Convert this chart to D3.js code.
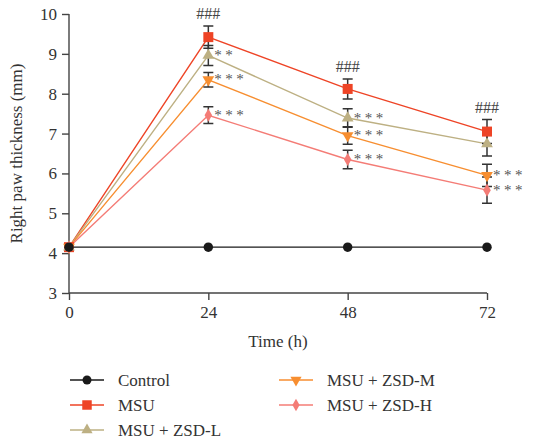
<!DOCTYPE html>
<html>
<head>
<meta charset="utf-8">
<script src="https://cdn.jsdelivr.net/npm/d3@7"></script>
<style>
  body { margin: 0; background: #fff; }
  text { font-family: "Liberation Serif", "DejaVu Serif", serif; }
</style>
</head>
<body>
<svg id="chart" width="533" height="447"></svg>
<script>
// data
var times = [0, 24, 48, 72]
var xTicks = [0, 24, 48, 72]
var yTicks = [3, 4, 5, 6, 7, 8, 9, 10]
var groups = ['Control', 'MSU', 'MSU + ZSD-L', 'MSU + ZSD-M', 'MSU + ZSD-H']
var control = [4.15, 4.15, 4.15, 4.15]
var msu = [4.15, 9.42, 8.12, 7.05]
var zsdL = [4.15, 8.96, 7.39, 6.74]
var zsdM = [4.15, 8.35, 6.95, 5.95]
var zsdH = [4.15, 7.46, 6.35, 5.58]
var controlErr = [0, 0, 0, 0]
var msuErr = [0, 0.28, 0.25, 0.3]
var zsdLErr = [0, 0.25, 0.23, 0.3]
var zsdMErr = [0, 0.18, 0.22, 0.28]
var zsdHErr = [0, 0.21, 0.23, 0.33]
// significance marks per group and time point
var msuSig = ['', '###', '###', '###']
var zsdLSig = ['', '**', '***', '']
var zsdMSig = ['', '***', '***', '***']
var zsdHSig = ['', '***', '***', '***']

var series = [
  { name: groups[0], values: control, err: controlErr, sig: null, color: '#1a1a1a', symbol: d3.symbolCircle, size: 70, rotate: 0 },
  { name: groups[1], values: msu, err: msuErr, sig: msuSig, color: '#ee4426', symbol: d3.symbolSquare, size: 100, rotate: 0 },
  { name: groups[2], values: zsdL, err: zsdLErr, sig: zsdLSig, color: '#bdb083', symbol: d3.symbolTriangle, size: 60, rotate: 0 },
  { name: groups[3], values: zsdM, err: zsdMErr, sig: zsdMSig, color: '#f78e30', symbol: d3.symbolTriangle, size: 60, rotate: 180 },
  { name: groups[4], values: zsdH, err: zsdHErr, sig: zsdHSig, color: '#f47c76', symbol: d3.symbolDiamond, size: 50, rotate: 0 }
]

var margin = { left: 69, top: 14, right: 46, bottom: 154 }
var width = 533 - margin.left - margin.right
var height = 447 - margin.top - margin.bottom
var fs = '17px'

var svg = d3.select('#chart')
var g = svg.append('g').attr('transform', 'translate(' + margin.left + ',' + margin.top + ')')

var x = d3.scaleLinear().domain([0, 72]).range([0, width])
var y = d3.scaleLinear().domain([3, 10]).range([height, 0])

// axes
var xAxis = g.append('g')
  .attr('transform', 'translate(0,' + height + ')')
  .call(d3.axisBottom(x).tickValues(xTicks).tickFormat(d3.format('d')).tickSize(7).tickPadding(6))
var yAxis = g.append('g')
  .call(d3.axisLeft(y).tickValues(yTicks).tickFormat(d3.format('d')).tickSize(7).tickPadding(5))
g.selectAll('.domain, .tick line').attr('stroke', '#444').attr('stroke-width', 1.4)
g.selectAll('.tick text').style('font-size', fs).style('fill', '#333')
xAxis.select('.domain').attr('d', 'M0,0H' + width)
yAxis.select('.domain').attr('d', 'M0,' + height + 'V0')

g.append('text')
  .attr('x', width / 2)
  .attr('y', height + 54)
  .attr('text-anchor', 'middle')
  .style('font-size', fs)
  .style('fill', '#333')
  .text('Time (h)')

g.append('text')
  .attr('transform', 'translate(-47,' + (height / 2) + ') rotate(-90)')
  .attr('text-anchor', 'middle')
  .style('font-size', fs)
  .style('fill', '#333')
  .text('Right paw thickness (mm)')

var line = d3.line()
  .x(function (d, i) { return x(times[i]) })
  .y(function (d) { return y(d) })

// lines, error bars, markers (control drawn last so it sits on top)
var order = [1, 2, 3, 4, 0]
order.forEach(function (k) {
  var s = series[k]
  g.append('path')
    .datum(s.values)
    .attr('d', line)
    .attr('fill', 'none')
    .attr('stroke', s.color)
    .attr('stroke-width', 1.4)
})

order.forEach(function (k) {
  var s = series[k]
  var eb = g.append('g')
  s.values.forEach(function (v, i) {
    if (!s.err[i]) return
    var cx = x(times[i])
    var y1 = y(v + s.err[i])
    var y2 = y(v - s.err[i])
    eb.append('path')
      .attr('d', 'M' + cx + ',' + y1 + 'V' + y2 + 'M' + (cx - 5) + ',' + y1 + 'H' + (cx + 5) + 'M' + (cx - 5) + ',' + y2 + 'H' + (cx + 5))
      .attr('stroke', '#333')
      .attr('stroke-width', 1.5)
      .attr('fill', 'none')
  })
})

order.forEach(function (k) {
  var s = series[k]
  g.selectAll(null)
    .data(s.values)
    .enter()
    .append('path')
    .attr('d', d3.symbol().type(s.symbol).size(s.size))
    .attr('transform', function (d, i) { return 'translate(' + x(times[i]) + ',' + y(d) + ') rotate(' + s.rotate + ')' })
    .attr('fill', s.color)
})

// significance marks
series.forEach(function (s) {
  if (!s.sig) return
  s.values.forEach(function (v, i) {
    var mark = s.sig[i]
    if (!mark) return
    if (mark[0] === '#') {
      g.append('text')
        .attr('x', x(times[i]))
        .attr('y', y(v + s.err[i]) - 7)
        .attr('text-anchor', 'middle')
        .style('font-size', '16px')
        .style('fill', '#444')
        .text(mark)
    } else {
      g.append('text')
        .attr('x', x(times[i]) + 6)
        .attr('y', y(v) + 4.5)
        .style('font-size', '15px')
        .style('letter-spacing', '3.5px')
        .style('fill', '#555')
        .text(mark)
    }
  })
})

// legend
var legendPos = [[70, 380], [70, 405], [70, 430], [279, 380], [279, 405]]
series.forEach(function (s, i) {
  var lg = svg.append('g').attr('transform', 'translate(' + legendPos[i][0] + ',' + legendPos[i][1] + ')')
  lg.append('line').attr('x1', 0).attr('x2', 34).attr('stroke', s.color).attr('stroke-width', 1.4)
  lg.append('path')
    .attr('d', d3.symbol().type(s.symbol).size(s.size * 0.9))
    .attr('transform', 'translate(17,0) rotate(' + s.rotate + ')')
    .attr('fill', s.color)
  lg.append('text')
    .attr('x', 48)
    .attr('y', 5.5)
    .style('font-size', fs)
    .style('fill', '#333')
    .text(s.name)
})
</script>
</body>
</html>
